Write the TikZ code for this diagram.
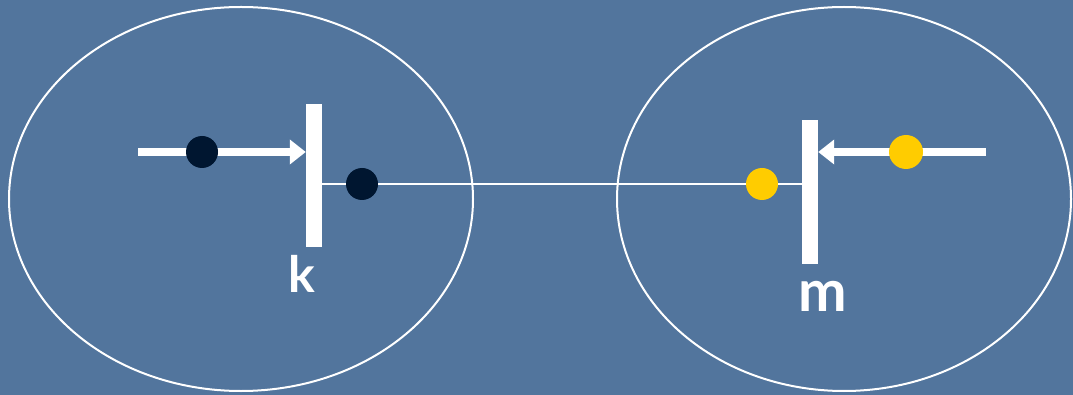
\documentclass[tikz,border=0pt]{standalone}
\usepackage{fontspec}
\setmainfont{Lato}
\usetikzlibrary{arrows.meta}
\definecolor{bg}{RGB}{82,117,157}
\definecolor{navy}{RGB}{0,22,48}
\definecolor{gold}{RGB}{255,204,0}
\tikzset{
  oval/.style={draw=white, line width=2pt},
  barbox/.style={fill=white, draw=none, minimum width=16pt, inner sep=0pt},
  dotnode/.style={circle, minimum size=32pt, inner sep=0pt, draw=none},
  feedline/.style={draw=white, line width=8pt, -{Triangle[length=16pt,width=24pt]}},
  linkline/.style={draw=white, line width=2pt},
  lbl/.style={text=white, font=\bfseries, inner sep=0pt, anchor=base}
}
\begin{document}
\begin{tikzpicture}[x=1pt,y=-1pt]
\fill[bg] (0,0) rectangle (1073,395);
\useasboundingbox (0,0) rectangle (1073,395);
\draw[oval] (241,199) ellipse [x radius=232, y radius=192];
\draw[oval] (844,199) ellipse [x radius=227, y radius=192];
\node[barbox, minimum height=143pt] (barK) at (314,175.5) {};
\node[barbox, minimum height=144pt] (barM) at (810,192) {};
\coordinate (inK) at (138,152);
\coordinate (inM) at (986,152);
\coordinate (midK) at (362,184);
\draw[feedline] (inK) -- (barK.west |- inK);
\draw[feedline] (inM) -- (barM.east |- inM);
\draw[linkline] (barK.east |- midK) -- (barM.west |- midK);
\node[dotnode, fill=navy] (d1) at (202,152) {};
\node[dotnode, fill=navy] (d2) at (362,184) {};
\node[dotnode, fill=gold] (d3) at (762,184) {};
\node[dotnode, fill=gold, minimum size=34pt] (d4) at (906,152) {};
\node[lbl, font=\fontsize{50}{50}\selectfont\bfseries] (k) at (302,293) {k};
\node[lbl, font=\fontsize{58}{58}\selectfont\bfseries] (m) at (823,311) {m};
\end{tikzpicture}
\end{document}
